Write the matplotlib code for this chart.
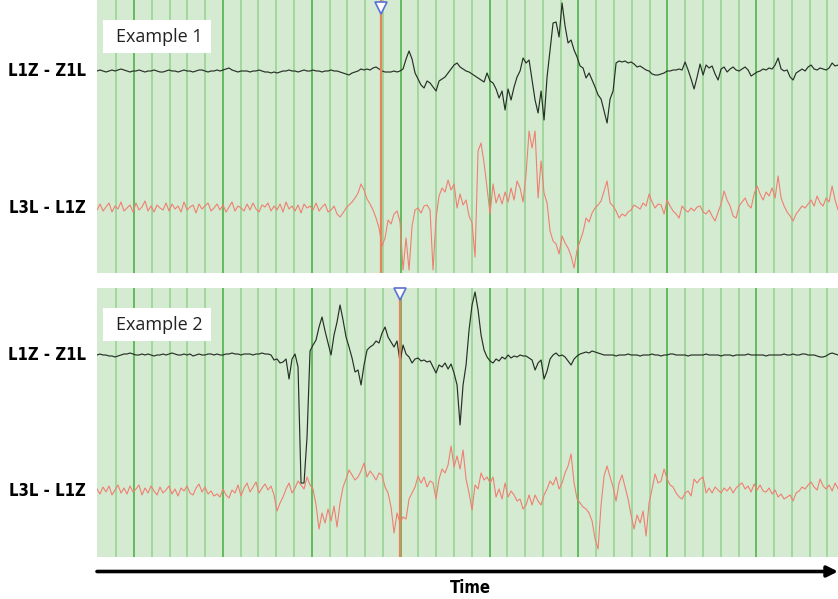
import numpy as np
import matplotlib
matplotlib.use('Agg')
import matplotlib.pyplot as plt
from matplotlib.patches import Rectangle, FancyArrowPatch

# Sample spacing (s) and channel amplitudes (arbitrary units)
DT = 0.03375

# Example 1, channel L1Z - Z1L
ex1_top = [
    0, 1, 0, -1, 0, 1, 0, 1, 2, 1,
    0, -1, 0, 0, 1, 0, -1, 0, 0, 1,
    0, -1, -1, 0, 1, 0, 0, -1, 0, 1,
    0, 0, -1, 0, 1, 1, 0, -1, 0, 0,
    1, 0, 1, 2, 3, 1, 0, -1, 0, 0,
    0, -1, 0, 0, 1, 0, -1, -1, -2, -1,
    -2, -1, 0, 0, 1, 0, 0, -1, 0, 1,
    0, 0, 1, 0, 0, -1, 0, 0, 1, 0,
    0, -1, -2, -3, -4, -2, -1, 0, 2, 1,
    2, 1, 3, 4, 2, 0, -1, -1, -1, 0,
    -1, 0, 2, 12, 20, 12, -2, -8, -14, -17,
    -10, -12, -16, -20, -10, -8, -6, -2, 2, 6,
    8, 4, 2, 0, -1, -3, -5, -7, -9, -11,
    -2, -10, -12, -18, -27, -20, -39, -18, -29, -16,
    -6, 0, 13, 8, 11, -9, -29, -42, -20, -49,
    -6, 21, 48, 49, 34, 68, 45, 28, 31, 21,
    14, 5, 3, -7, -2, -9, -16, -24, -28, -40,
    -52, -28, -20, 8, 10, 9, 10, 8, 9, 7,
    4, 5, 3, 1, 0, -3, -4, -4, -3, -2,
    0, 0, 1, 1, 2, 1, 9, 1, -8, -18,
    -6, 7, -4, 6, 3, 5, -3, -9, 2, 4,
    -1, 2, 4, 1, 0, 2, 4, 1, -5, -3,
    -1, 0, 2, 1, 3, 2, 6, 13, 2, 0,
    1, -6, -9, -2, 0, 2, 0, 4, 6, 2,
    1, 3, 2, 1, 3, 8, 5, 6,
]

# Example 1, channel L3L - L1Z
ex1_bot = [
    -2, 4, -3, 1, 5, -4, 2, -1, 6, -3,
    0, 3, -4, 5, -2, 1, 7, -3, 2, -4,
    3, 0, -2, 5, -3, 4, -1, 2, -4, 6,
    -2, 1, 3, -5, 4, -1, 2, 5, -3, 0,
    4, -2, 3, -4, 1, 6, -3, 2, 0, -3,
    4, -2, 5, -1, -4, 3, 1, 5, -3, 2,
    -2, 4, -4, 6, -1, 2, -3, 3, -5, 4,
    0, 2, -2, 5, -3, 1, 4, -4, -2, 2,
    -6, -9, -5, 0, 3, 6, 10, 15, 24, 18,
    9, 4, -2, -10, -20, -38, -30, -12, -16, -6,
    -3, -14, -62, -30, -62, -18, -2, 0, -5, 2,
    3, -2, -62, -10, 12, 20, 16, 28, 18, 24,
    0, 14, 3, 8, -8, -15, -49, 57, 65, 45,
    20, -6, 24, 5, 14, 4, 16, 6, 20, 8,
    27, 20, 6, 34, 77, 60, 77, 10, 47, 15,
    5, -23, -33, -36, -46, -28, -35, -40, -48, -60,
    -42, -33, -24, -10, -14, -5, 0, 3, 7, 17,
    27, 5, 2, -3, -10, -6, -8, -4, -2, 3,
    1, -1, 5, 2, 14, 6, 0, 4, 3, -6,
    8, 2, -3, -6, -10, 2, -2, -4, 0, -3,
    1, 2, -4, -6, -2, -8, -13, -4, 4, 17,
    8, 2, -8, -10, 2, 6, 10, 3, 0, 14,
    22, 14, 8, 16, 12, 20, 10, 32, 10, 2,
    -4, -8, -13, -6, -2, 2, 0, 4, 8, 2,
    12, 5, 2, 10, 6, 22, 8, -2,
]

# Example 2, channel L1Z - Z1L
ex2_top = [
    0, 1, 0, 0, -1, -1, -2, -1, 0, 1,
    1, 2, 1, 0, 0, 1, 0, 1, 0, -1,
    0, 0, 1, 0, 1, 2, 1, 0, 0, 1,
    0, 1, -1, 0, 1, 0, 0, 1, 1, 0,
    1, 0, 0, 1, 1, 2, 1, 1, 0, 1,
    1, 1, 0, 1, 1, 2, 1, 1, 0, -5,
    -4, -8, -7, -4, -24, -4, 1, -12, -128, -128,
    -82, 4, 10, 15, 28, 38, 24, 12, 0, 20,
    33, 50, 35, 18, 8, -3, -17, -15, -30, -10,
    5, 8, 10, 14, 12, 22, 28, 18, 13, 8,
    14, -7, 10, 1, -2, -8, -4, -3, -6, -5,
    -7, -6, -12, -18, -10, -12, -8, -14, -9, -18,
    -30, -70, -30, -10, 25, 50, 63, 45, 20, 5,
    -2, -6, -8, -4, -6, -2, -4, 0, -3, -1,
    -2, 0, -1, -1, -3, -5, -15, -8, -5, -24,
    -16, -4, 0, 2, -1, 0, -2, -6, -10, -4,
    -1, 1, 2, 3, 2, 4, 3, 2, 1, 0,
    0, 0, 0, -1, 0, 0, 0, 1, 0, 0,
    0, -1, 0, 0, 0, 1, 0, 0, -1, 0,
    0, 1, 1, 0, 0, 0, 0, -1, 0, 0,
    0, 0, 0, 1, 0, 0, 0, 0, -1, 0,
    0, 0, -1, 0, 0, 0, 0, 1, 0, 0,
    0, 0, 0, -1, 0, 0, 0, 0, 0, 1,
    0, 0, 1, 0, 0, 1, 1, 0, 0, 0,
    -1, -2, -2, -1, 1, 2, 1, 0,
]

# Example 2, channel L3L - L1Z
ex2_bot = [
    2, -3, 4, -1, 5, -4, 1, 6, -2, 3,
    -3, 5, -1, 2, 6, -4, 3, -2, 5, 0,
    -4, 4, -2, 1, 5, -3, 2, -5, 3, 0,
    5, -2, -4, 3, 7, -1, 4, -3, 0, -5,
    -3, -6, 2, -4, -7, 1, -2, 6, -5, 3,
    8, -1, 4, 9, -2, 3, 7, 1, 5, -4,
    -20, -12, -6, 2, 8, -2, 3, 10, 6, 2,
    14, 6, 2, -14, -38, -22, -32, -18, -30, -15,
    -36, -12, 4, 12, 21, 16, 11, 14, 20, 28,
    14, 20, 16, 11, 18, 16, 4, -2, -16, -42,
    -22, -32, -26, -28, -8, -2, 4, 15, 8, 14,
    4, 10, 8, -8, 12, 22, 18, 26, 45, 24,
    35, 22, 41, 12, -2, -19, 6, 2, 18, 11,
    14, 8, 14, -6, 2, -8, 8, -6, 0, -4,
    -10, -8, -18, -14, -4, -14, -4, -10, -14, -4,
    2, 10, 6, 14, 2, 8, 18, 25, 37, 8,
    -8, -12, -16, -18, -22, -30, -48, -58, -14, 15,
    25, 14, 4, -10, 8, 16, 4, -8, -24, -38,
    -24, -32, -20, -45, -12, 2, 17, 8, 10, 22,
    12, 6, 4, -2, -6, -8, -2, 0, -5, 12,
    8, 12, 14, -2, 3, -2, 4, 1, -2, 3,
    0, 4, -2, 3, 6, 8, 2, 5, -1, 7,
    1, 6, 0, -1, 3, -3, 1, -6, -3, -8,
    -6, -4, -10, -2, 0, 4, 2, 6, 9, 4,
    1, 12, 5, 2, 6, 0, 8, 2,
]

channel_names = ['L1Z - Z1L', 'L3L - L1Z']
example_names = ['Example 1', 'Example 2']
marker_times = [3.195, 3.408]   # s, position of the cursor in each example
duration = 8.335                 # s shown in each panel

# style
BG = '#d4ebd1'
MINOR = '#94d18e'
MAJOR = '#62bb5d'
BLACK = '#263026'
RED = '#f07f72'
CURSOR = '#e6845f'
LABEL_FONT = dict(family='DejaVu Sans', stretch='condensed', fontweight='bold')

W, H = 838, 599
fig = plt.figure(figsize=(W / 100, H / 100), dpi=100)
fig.patch.set_facecolor('white')

# panel extents in pixels: (top, bottom), channel baselines from panel top
panels = [(0, 272.5, 71, 208), (288, 557, 67, 203)]
traces = [(ex1_top, ex1_bot), (ex2_top, ex2_bot)]

for p, ((top, bot, base_a, base_b), (sig_a, sig_b)) in enumerate(zip(panels, traces)):
    ax = fig.add_axes([97 / W, 1 - bot / H, 741 / W, (bot - top) / H])
    ax.set_facecolor(BG)
    ax.set_xlim(0, duration)
    ax.set_ylim(-(bot - top), 0)
    for s in ax.spines.values():
        s.set_visible(False)
    ax.set_xticks([])
    ax.set_yticks([])

    # vertical time grid: 0.2 s minor, 1 s major
    for k in range(1, 42):
        tk = 0.016 + 0.2 * k
        major = (k % 5 == 2)
        ax.axvline(tk, color=MAJOR if major else MINOR, lw=1.4 if major else 1.1, zorder=1)

    t_a = np.arange(len(sig_a)) * DT
    t_b = np.arange(len(sig_b)) * DT
    ax.plot(t_b, np.array(sig_b) - base_b, color=RED, lw=0.8, zorder=3)
    ax.plot(t_a, np.array(sig_a) - base_a, color=BLACK, lw=0.85, zorder=4)

    # cursor
    ax.axvline(marker_times[p], color=CURSOR, lw=1.6, zorder=5)
    ax.plot([marker_times[p]], [-8 if p == 0 else -5.5], marker='v', ms=9,
            mfc='white', mec='#5a6fd8', mew=1.2, zorder=6, clip_on=False)

    # example label box
    fig.add_artist(Rectangle((103 / W, 1 - (top + 53) / H), 108 / W, 33 / H,
                             transform=fig.transFigure, fc='white', ec='none', zorder=7))
    fig.text(159 / W, 1 - (top + 37) / H, example_names[p], ha='center', va='center',
             fontsize=13, family='Open Sans', color='#222222', zorder=8)

    # channel names
    for name, base in zip(channel_names, (base_a, base_b)):
        fig.text(47 / W, 1 - (top + base) / H, name, ha='center', va='center',
                 fontsize=12, **LABEL_FONT)

# time arrow
arrow = FancyArrowPatch((97 / W, 1 - 571.5 / H), (838 / W, 1 - 571.5 / H),
                        transform=fig.transFigure, arrowstyle='-|>', mutation_scale=16,
                        lw=2.6, color='black', shrinkA=0, shrinkB=0)
fig.add_artist(arrow)
fig.text(470 / W, 1 - 588 / H, 'Time', ha='center', va='center', fontsize=12,
         **LABEL_FONT)

fig.savefig('out.png', dpi=100)
